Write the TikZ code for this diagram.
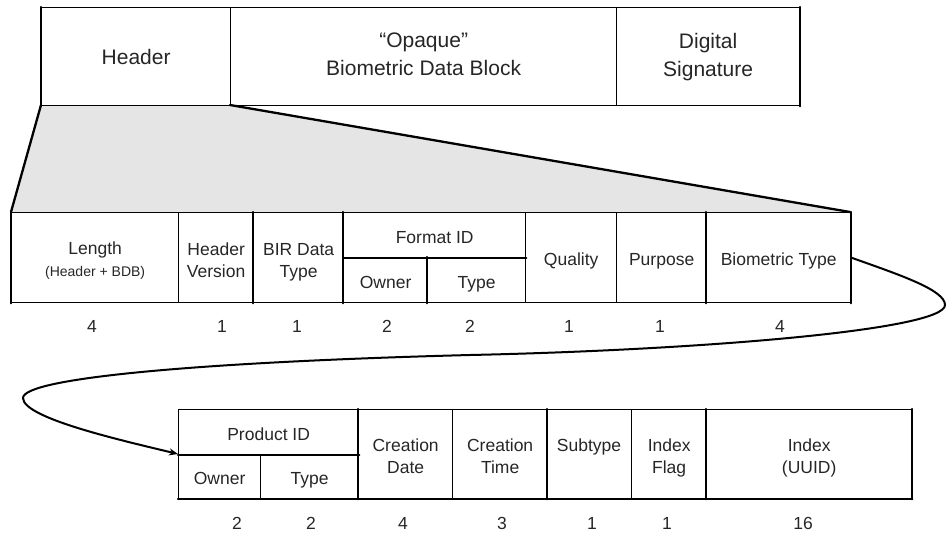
\documentclass[tikz,border=0pt]{standalone}
\usepackage{fontspec}
\setmainfont{Liberation Sans}
\usetikzlibrary{arrows.meta}
\newcommand{\cellbegstrut}{\rule{0pt}{21pt}}
\newcommand{\cellendstrut}{\rule[-4.5pt]{0pt}{0pt}}
\begin{document}
\begin{tikzpicture}[x=1pt,y=-1pt,
  celltext/.style={inner sep=0pt, align=center, text=black!85, font=\fontsize{17.5}{22}\selectfont,
    execute at begin node=\cellbegstrut, execute at end node=\cellendstrut},
  cell/.style={celltext, draw=black, line width=1.3pt, anchor=north west},
  bigcell/.style={cell, font=\fontsize{21}{28}\selectfont},
  num/.style={text=black!85, font=\fontsize{17.5}{20}\selectfont, inner sep=0pt},
  thk/.style={line width=2.3pt, line cap=round},
  link/.style={line width=2pt, -{Stealth[length=9pt,width=7pt]}}]
\useasboundingbox (0,0) rectangle (947,533);

% gray zoom trapezoid
\fill[black!10] (41,105) -- (230,105) -- (850,212) -- (11,212) -- cycle;
\draw[thk] (41,105) -- (11,212);
\draw[thk] (230,105) -- (850,212);

% top record
\node[bigcell, minimum width=189pt, minimum height=98pt] (hdr) at (41,7) {Header};
\node[bigcell, minimum width=386pt, minimum height=98pt] (bdb) at (230,7) {“Opaque”\\Biometric Data Block};
\node[bigcell, minimum width=183pt, minimum height=98pt] (sig) at (616,7) {Digital\\Signature};
\draw[thk] (hdr.north west) -- (hdr.south west);
\draw[thk] (sig.north east) -- (sig.south east);

% middle record
\node[cell, minimum width=167pt, minimum height=90pt] (len) at (11,212) {};
\node[celltext] (lent) at ([yshift=-4pt]len.center) {Length\\{\fontsize{14}{16}\selectfont(Header + BDB)}};
\node[cell, minimum width=75pt, minimum height=90pt] (hv) at (178,212) {};
\node[celltext] (hvt) at ([yshift=-5pt]hv.center) {Header\\Version};
\node[cell, minimum width=90pt, minimum height=90pt] (bir) at (253,212) {};
\node[celltext] (birt) at ([yshift=-5pt]bir.center) {BIR Data\\Type};
\node[cell, minimum width=182pt, minimum height=45pt] (fid) at (343,212) {Format ID};
\node[cell, minimum width=84pt, minimum height=45pt] (fown) at (343,257) {Owner};
\node[cell, minimum width=98pt, minimum height=45pt] (ftyp) at (427,257) {Type};
\node[cell, minimum width=91pt, minimum height=90pt] (qual) at (525,212) {Quality};
\node[cell, minimum width=90pt, minimum height=90pt] (purp) at (616,212) {Purpose};
\node[cell, minimum width=144pt, minimum height=90pt] (bio) at (706,212) {Biometric Type};
\draw[thk] (len.north west) -- (len.south west);
\draw[thk] (bir.north west) -- (bir.south west);
\draw[thk] (fid.north west) -- (fown.south west);
\draw[thk] (ftyp.north west) -- (ftyp.south west);
\draw[thk] (fid.south west) -- (fid.south east);
\draw[thk] (bio.north west) -- (bio.south west);
\draw[thk] (bio.north east) -- (bio.south east);

% middle sizes
\node[num] (n1) at (92,326) {4};
\node[num] (n2) at (222,326) {1};
\node[num] (n3) at (297,326) {1};
\node[num] (n4) at (387,326) {2};
\node[num] (n5) at (470,326) {2};
\node[num] (n6) at (569,326) {1};
\node[num] (n7) at (660,326) {1};
\node[num] (n8) at (780,326) {4};

% bottom record
\node[cell, minimum width=180pt, minimum height=45pt] (pid) at (178,409) {Product ID};
\node[cell, minimum width=82pt, minimum height=44pt] (pown) at (178,454) {Owner};
\node[cell, minimum width=98pt, minimum height=44pt] (ptyp) at (260,454) {Type};
\node[cell, minimum width=94pt, minimum height=89pt] (cdat) at (358,409) {};
\node[celltext] (cdatt) at ([yshift=-4pt]cdat.center) {Creation\\Date};
\node[cell, minimum width=95pt, minimum height=89pt] (ctim) at (452,409) {};
\node[celltext] (ctimt) at ([yshift=-4pt]ctim.center) {Creation\\Time};
\node[cell, minimum width=84pt, minimum height=89pt] (subt) at (547,409) {};
\node[num] (subtxt) at (589,447) {Subtype};
\node[cell, minimum width=75pt, minimum height=89pt] (iflg) at (631,409) {};
\node[celltext] (iflgt) at ([yshift=-4pt]iflg.center) {Index\\Flag};
\node[cell, minimum width=205pt, minimum height=89pt] (idx) at (706,409) {};
\node[celltext] (idxt) at ([yshift=-4pt]idx.center) {Index\\(UUID)};
\draw[thk] (pid.south west) -- (pid.south east);
\draw[thk] (cdat.north west) -- (cdat.south west);
\draw[thk] (subt.north west) -- (subt.south west);
\draw[thk] (idx.north west) -- (idx.south west);
\draw[thk] (pown.south west) -- (idx.south east);
\draw[thk] (idx.north east) -- (idx.south east);

% bottom sizes
\node[num] (m1) at (237,523) {2};
\node[num] (m2) at (311,523) {2};
\node[num] (m3) at (403,523) {4};
\node[num] (m4) at (502,523) {3};
\node[num] (m5) at (592,523) {1};
\node[num] (m6) at (667,523) {1};
\node[num] (m7) at (803,523) {16};

% continuation connector
\draw[link] (bio.east) .. controls (900,275) and (945,290) .. (945,305)
  .. controls (945,330) and (700,350) .. (470,355)
  .. controls (200,362) and (23,378) .. (23,398)
  .. controls (23,418) and (120,440) .. (pown.north west);
\end{tikzpicture}
\end{document}
